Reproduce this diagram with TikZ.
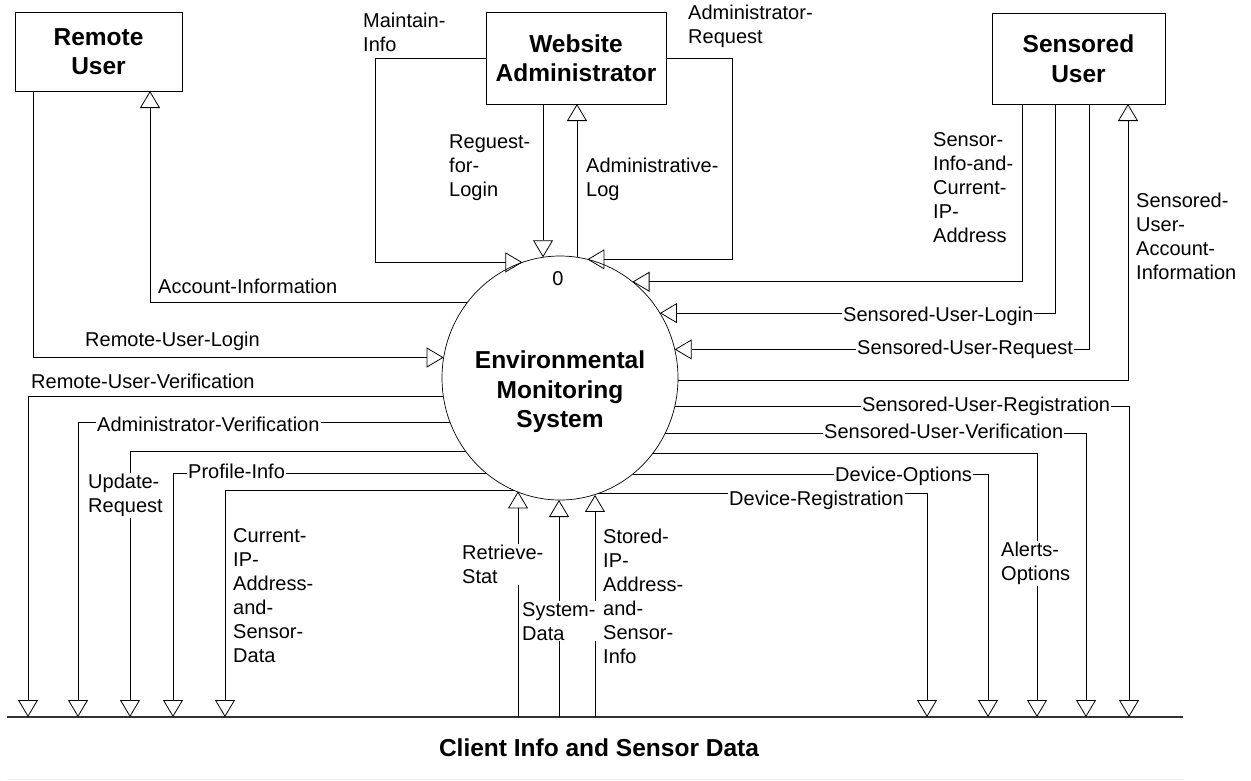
\documentclass[tikz,border=0pt]{standalone}
\usepackage{fontspec}
\setmainfont{Liberation Sans}
\usetikzlibrary{arrows.meta,shapes.geometric,calc}

\newcommand\lblsize{\fontsize{20}{24}\selectfont}
\newcommand\hdsize{\fontsize{24.5}{29.5}\selectfont\bfseries}

\tikzset{
  flow/.style={draw, line width=0.8pt, -{Triangle[open,length=17pt,width=20pt,line width=0.8pt]}},
  entity/.style={draw, line width=0.8pt, inner sep=0pt, outer sep=0pt, align=center, font=\hdsize},
  lbl/.style={font=\lblsize, inner sep=1pt, align=left},
  cut/.style={lbl, fill=white},
}

\begin{document}
\begin{tikzpicture}[x=1pt, y=-1pt]
\useasboundingbox (0,0) rectangle (1251,780);

% external entities
\node[entity, minimum width=167pt, minimum height=79pt] (ru) at (98.5,51.5) {Remote\\User};
\node[entity, minimum width=180pt, minimum height=92pt] (wa) at (576,58) {Website\\Administrator};
\node[entity, minimum width=173pt, minimum height=91pt] (su) at (1078.5,58.5) {Sensored\\User};

% the process
\node[ellipse, draw, line width=0.7pt, minimum width=236pt, minimum height=244pt,
      inner sep=0pt, outer sep=0pt] (sys) at (560,378) {};
\node[font=\lblsize, anchor=base, inner sep=0pt] (num) at (558,285) {0};
\node[font=\hdsize, align=center, inner sep=0pt] (title) at (560,392) {Environmental\\Monitoring\\System};

% data store
\coordinate (busW) at (7,717);
\coordinate (busE) at (1183,717);
\draw[line width=1.6pt, draw=black!80] (busW) -- (busE);
\node[font=\hdsize, anchor=base, inner sep=0pt] (store) at (599,756) {Client Info and Sensor Data};
\draw[line width=0.6pt, draw=black!6] (7,779) -- (1183,779);

% drop points on the store
\coordinate (dRUV) at (28,717);
\coordinate (dAV)  at (78,717);
\coordinate (dUR)  at (130,717);
\coordinate (dPI)  at (173,717);
\coordinate (dCIP) at (225,717);
\coordinate (dDR)  at (927,717);
\coordinate (dDO)  at (988,717);
\coordinate (dAO)  at (1037,717);
\coordinate (dSUV) at (1086,717);
\coordinate (dSUR) at (1129,717);
\coordinate (uRS)  at (518,717);
\coordinate (uSD)  at (559,717);
\coordinate (uST)  at (595,717);

% remote user flows
\draw[flow] (sys.141.1) -| ($(ru.south west)+(135,0)$);
\draw[flow] ($(ru.south west)+(18,0)$) |- (sys.170.25);

% administrator flows
\draw[flow] (wa.west) -- ++(-111,0) |- (sys.108.9);
\draw[flow] (wa.south -| sys.98) -- (sys.98);
\draw[flow] (sys.82) -- (wa.south -| sys.82);
\draw[flow] (wa.east) -- ++(66,0) |- (sys.77.7);

% sensored user flows
\draw[flow] ($(su.south west)+(30,0)$) |- (sys.53.56);
\draw[flow] ($(su.south west)+(63,0)$) |- (sys.33.05);
\draw[flow] ($(su.south west)+(97,0)$) |- (sys.14.69);
\draw[flow] (sys.359.5) -| ($(su.south west)+(136,0)$);

% flows into the store, left
\draw[flow] (sys.189.26) -| (dRUV);
\draw[flow] (sys.202.8) -| (dAV);
\draw[flow] (sys.218.3) -| (dUR);
\draw[flow] (sys.232.1) -| (dPI);
\draw[flow] (sys.248.5) -| (dCIP);

% flows into the store, right
\draw[flow] (sys.346.8) -| (dSUR);
\draw[flow] (sys.332.96) -| (dSUV);
\draw[flow] (sys.321.7) -| (dAO);
\draw[flow] (sys.307.2) -| (dDO);
\draw[flow] (sys.288.9) -| (dDR);

% flows out of the store
\draw[flow] (uRS) -- (uRS |- sys.249.8);
\draw[flow] (uSD) -- (uSD |- sys.270);
\draw[flow] (uST) -- (uST |- sys.286.7);

% flow labels
\node[lbl, anchor=base west] (lAI) at (157,293) {Account-Information};
\node[lbl, anchor=base west] (lRUL) at (84,346) {Remote-User-Login};
\node[lbl, anchor=base west] (lRUV) at (30,388) {Remote-User-Verification};
\node[cut, anchor=base west] (lAV) at (96,431) {Administrator-Verification};
\node[cut, anchor=north west] (lUR) at (87,473) {Update-\\Request};
\node[cut, anchor=base west] (lPI) at (187,478) {Profile-Info};
\node[lbl, anchor=north west] (lCIP) at (232,527) {Current-\\IP-\\Address-\\and-\\Sensor-\\Data};
\node[cut, anchor=north west] (lRS) at (461,544) {Retrieve-\\Stat};
\node[cut, anchor=north west] (lSD) at (521,601) {System-\\Data};
\node[lbl, anchor=north west] (lST) at (602,528) {Stored-\\IP-\\Address-\\and-\\Sensor-\\Info};

\node[cut, anchor=base west] (lSUR) at (861,411) {Sensored-User-Registration};
\node[cut, anchor=base west] (lSUV) at (823,438) {Sensored-User-Verification};
\node[cut, anchor=north west] (lAO) at (1000,541) {Alerts-\\Options};
\node[cut, anchor=base west] (lDO) at (834,481) {Device-Options};
\node[cut, anchor=base west] (lDR) at (728,505) {Device-Registration};
\node[cut, anchor=base west] (lSUL) at (842,321) {Sensored-User-Login};
\node[cut, anchor=base west] (lSUQ) at (856,354) {Sensored-User-Request};
\node[lbl, anchor=north west] (lSI) at (932,131) {Sensor-\\Info-and-\\Current-\\IP-\\Address};
\node[lbl, anchor=north west] (lSUA) at (1135,192) {Sensored-\\User-\\Account-\\Information};

\node[lbl, anchor=north west] (lMI) at (362,12) {Maintain-\\Info};
\node[lbl, anchor=north west] (lAR) at (687,4) {Administrator-\\Request};
\node[lbl, anchor=north west] (lRL) at (448,134) {Reguest-\\for-\\Login};
\node[lbl, anchor=north west] (lAL) at (585,157) {Administrative-\\Log};
\end{tikzpicture}
\end{document}
